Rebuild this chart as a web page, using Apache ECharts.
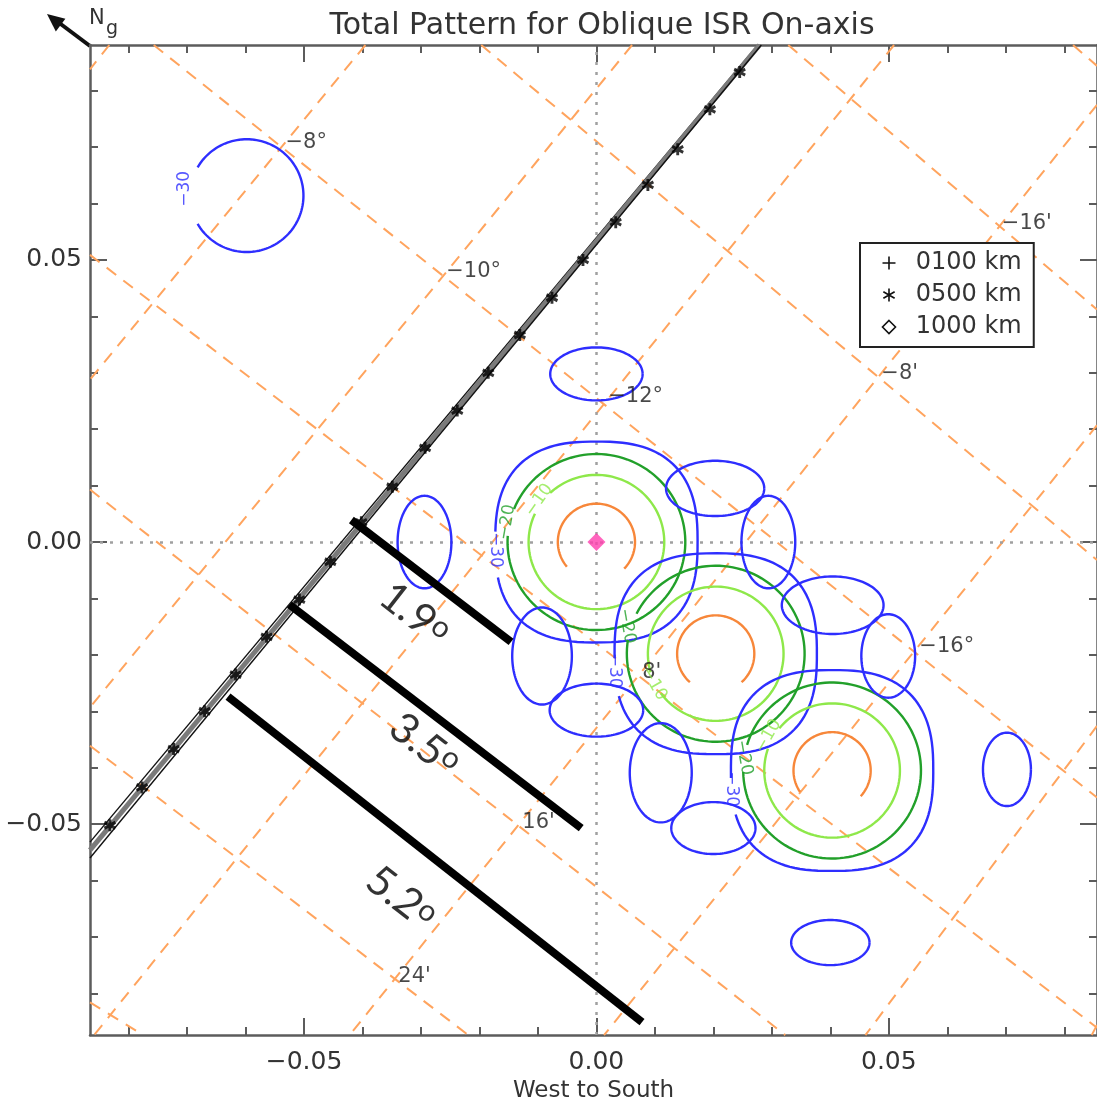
<!DOCTYPE html>
<html>
<head>
<meta charset="utf-8">
<title>Total Pattern for Oblique ISR On-axis</title>
<script src="https://cdn.jsdelivr.net/npm/echarts@6/dist/echarts.min.js"></script>
<style>
  html, body { margin: 0; padding: 0; background: #fff; }
  #chart { width: 1097px; height: 1108px; }
</style>
</head>
<body>
<div id="chart"></div>
<script>
// axis extents and ticks (direction cosines)
const xRange = [-0.0866, 0.0856];
const yRange = [-0.0874, 0.0881];
const majorTicks = [-0.05, 0, 0.05];
const minorTicks = [-0.08, -0.07, -0.06, -0.05, -0.04, -0.03, -0.02, -0.01, 0,
  0.01, 0.02, 0.03, 0.04, 0.05, 0.06, 0.07, 0.08];

// geographic grid: "/" lines (latitude) and "\" lines (longitude offset), [x0, y0, x1, y1]
const latLines = [
  [-0.0833, 0.0881, -0.0866, 0.0838],
  [-0.0395, 0.0881, -0.0866, 0.0288],
  [0.0061, 0.0881, -0.0866, -0.0293],
  [0.0509, 0.0881, -0.0859, -0.0874],
  [0.0856, 0.0775, -0.0422, -0.0874],
  [0.0856, 0.0207, 0.0013, -0.0874],
  [0.0856, -0.0326, 0.0460, -0.0874],
  [0.0856, -0.0856, 0.0847, -0.0874]
];
const lonLines = [
  [0.0815, 0.0881, 0.0856, 0.0844],
  [0.0328, 0.0881, 0.0856, 0.0412],
  [-0.0197, 0.0881, 0.0856, -0.0032],
  [-0.0757, 0.0881, 0.0856, -0.0453],
  [-0.0866, 0.0509, 0.0856, -0.0861],
  [-0.0866, 0.0093, 0.0323, -0.0874],
  [-0.0866, -0.0361, -0.0219, -0.0874],
  [-0.0866, -0.0816, -0.0775, -0.0874]
];
const latLabels = ['\u22128\u00b0', '\u221210\u00b0', '\u221212\u00b0', '\u221216\u00b0'];
const latLabelX = [-0.0537, -0.0262, 0.0015, 0.0547];
const latLabelY = [0.0702, 0.0474, 0.0253, -0.0191];
const lonLabels = ["\u221216'", "\u22128'", "8'", "16'", "24'"];
const lonLabelX = [0.0688, 0.0482, 0.0073, -0.0132, -0.0344];
const lonLabelY = [0.0560, 0.0293, -0.0237, -0.0503, -0.0775];

// beam centres and main-lobe contours (orange, -10, -20, -30 dB)
const beamX = [0.0, 0.0204, 0.0403];
const beamY = [0.0, -0.0198, -0.0405];
const ringRx = [0.0066, 0.0116, 0.0152, 0.0173];
const ringRy = [0.0068, 0.0119, 0.0156, 0.0178];
const ringShape = [2, 2, 2, 2.6];
// label gaps per beam and level: [centre angle, half width] in degrees
const ringGap = [
  [[-92, 48], [144, 11], [167, 9], [186, 9]],
  [[-90, 42], [206, 10], [162, 9], [190, 9]],
  [[-94, 52], [151, 10], [172, 9], [191, 9]]
];

// -30 dB side lobes
const lobeX = [0.0, -0.0294, 0.0294, 0.0, 0.0203, -0.0093, 0.0499, 0.0200, 0.0404, 0.0110, 0.0702, 0.0400, -0.0598];
const lobeY = [0.0298, 0.0, 0.0, -0.0298, 0.0095, -0.0202, -0.0202, -0.0507, -0.0112, -0.0409, -0.0403, -0.0710, 0.0614];
const lobeRx = [0.0079, 0.0046, 0.0046, 0.0080, 0.0084, 0.0051, 0.0046, 0.0072, 0.0087, 0.0053, 0.0041, 0.0067, 0.0097];
const lobeRy = [0.0047, 0.0082, 0.0082, 0.0047, 0.0049, 0.0086, 0.0074, 0.0046, 0.0051, 0.0088, 0.0065, 0.0040, 0.0100];
const lobeGap = [null, null, null, null, null, null, null, null, null, null, null, null, [180, 30]];

// contour labels
const cLabText = ['\u221230', '\u221210', '\u221220', '\u221230', '\u221220', '\u221230', '\u221210', '\u221220', '\u221230', '\u221210'];
const cLabX = [-0.0704, -0.0098, -0.0153, -0.0172, 0.0052, 0.0030, 0.0098, 0.0252, 0.0231, 0.0294];
const cLabY = [0.0626, 0.0074, 0.0035, -0.0014, -0.0149, -0.0228, -0.0251, -0.0382, -0.0438, -0.0344];
const cLabRot = [90, 55, 80, -90, -80, -90, -60, -80, -90, 60];
const cLabLevel = [3, 1, 2, 3, 2, 3, 1, 2, 3, 1];

// field-aligned track at three altitudes: top and bottom ends
const trackNames = ['0100 km', '0500 km', '1000 km'];
const trackTopX = [0.0276, 0.0279, 0.0282];
const trackTopY = [0.0881, 0.0881, 0.0881];
const trackEndX = [-0.0866, -0.0866, -0.0866];
const trackEndY = [-0.0532, -0.0546, -0.0560];
// asterisk markers along the track
const markerX = [0.0245, 0.0194, 0.0139, 0.0088, 0.0033, -0.0023, -0.0076, -0.0131, -0.0185, -0.0238, -0.0293,
  -0.0349, -0.0402, -0.0455, -0.0508, -0.0564, -0.0617, -0.0670, -0.0723, -0.0777, -0.0832];
const markerY = [0.0833, 0.0767, 0.0696, 0.0633, 0.0567, 0.0500, 0.0433, 0.0367, 0.0300, 0.0233, 0.0167,
  0.0098, 0.0035, -0.0035, -0.0102, -0.0168, -0.0235, -0.0300, -0.0367, -0.0435, -0.0502];

// hand-drawn span annotations
const spanLabels = ['1.9', '3.5', '5.2'];
const spanLines = [
  [-0.0419, 0.0039, -0.0146, -0.0177],
  [-0.0525, -0.0111, -0.0026, -0.0507],
  [-0.0630, -0.0274, 0.0078, -0.0851]
];
const spanTextX = [-0.0311, -0.0294, -0.0334];
const spanTextY = [-0.0128, -0.0360, -0.0631];

const font = 'DejaVu Sans';
const txt = '#333';
const axisGrey = '#5c5c5c';
const levelColors = ['#f7873a', '#8ee84a', '#22a02a', '#2e2eff'];

const chart = echarts.init(document.getElementById('chart'));

const fmt = v => (v < 0 ? '\u2212' : '') + Math.abs(v).toFixed(2);

function tickAxis(dim, pos, len, ticks, withLine) {
  return {
    type: 'value',
    position: pos,
    min: dim === 'x' ? xRange[0] : yRange[0],
    max: dim === 'x' ? xRange[1] : yRange[1],
    axisLine: { show: withLine, onZero: false, lineStyle: { color: axisGrey, width: 2.5 } },
    axisTick: { show: true, inside: true, length: len, customValues: ticks, lineStyle: { color: axisGrey, width: 2 } },
    axisLabel: { show: false },
    splitLine: { show: false }
  };
}

const xAxes = [
  tickAxis('x', 'bottom', 8, minorTicks, true),
  tickAxis('x', 'bottom', 17, majorTicks, false),
  tickAxis('x', 'top', 8, minorTicks, true),
  tickAxis('x', 'top', 17, majorTicks, false)
];
xAxes[0].axisLabel = { show: true, customValues: majorTicks, formatter: fmt, fontSize: 25, color: txt, fontFamily: font, margin: 15 };
xAxes[0].name = 'West to South';
xAxes[0].nameLocation = 'middle';
xAxes[0].nameGap = 42;
xAxes[0].nameTextStyle = { fontSize: 23, color: txt, fontFamily: font };

const yAxes = [
  tickAxis('y', 'left', 8, minorTicks, true),
  tickAxis('y', 'left', 17, majorTicks, false),
  tickAxis('y', 'right', 8, minorTicks, true),
  tickAxis('y', 'right', 17, majorTicks, false)
];
yAxes[0].axisLabel = { show: true, customValues: majorTicks, formatter: fmt, fontSize: 25, color: txt, fontFamily: font, margin: 8 };

// contour shapes: [cx, cy, rx, ry, exponent, startDeg, endDeg, level]
const contourItems = [];
beamX.forEach((cx, b) => {
  ringRx.forEach((rx, k) => {
    const g = ringGap[b][k];
    contourItems.push([cx, beamY[b], rx, ringRy[k], ringShape[k], g[0] + g[1], g[0] - g[1] + 360, k]);
  });
});
lobeX.forEach((cx, i) => {
  const g = lobeGap[i];
  contourItems.push([cx, lobeY[i], lobeRx[i], lobeRy[i], 2, g ? g[0] + g[1] : 0, g ? g[0] - g[1] + 360 : 360, 3]);
});

function renderContour(params, api) {
  const cx = api.value(0), cy = api.value(1), rx = api.value(2), ry = api.value(3);
  const n = api.value(4), a0 = api.value(5), a1 = api.value(6), k = api.value(7);
  const pts = [];
  const steps = 120;
  for (let i = 0; i <= steps; i++) {
    const t = (a0 + (a1 - a0) * i / steps) * Math.PI / 180;
    const c = Math.cos(t), s = Math.sin(t);
    pts.push(api.coord([
      cx + rx * Math.sign(c) * Math.pow(Math.abs(c), 2 / n),
      cy + ry * Math.sign(s) * Math.pow(Math.abs(s), 2 / n)
    ]));
  }
  return {
    type: 'polyline',
    shape: { points: pts },
    style: { stroke: levelColors[k], fill: null, lineWidth: 2.4 }
  };
}

const textPoint = (x, y, text, style) => ({ value: [x, y], label: Object.assign({ show: true, formatter: text }, style) });

const gridLabelData = latLabels.map((t, i) => textPoint(latLabelX[i], latLabelY[i], t, {}))
  .concat(lonLabels.map((t, i) => textPoint(lonLabelX[i], lonLabelY[i], t, {})));

const contourLabelData = cLabText.map((t, i) => textPoint(cLabX[i], cLabY[i], t, {
  rotate: cLabRot[i], color: levelColors[cLabLevel[i]], position: 'inside'
}));

const spanTextData = spanLabels.map((t, i) => textPoint(spanTextX[i], spanTextY[i], '{n|' + t + '}{d|o}', {
  rotate: -38, position: 'inside'
}));

const plusIcon = 'path://M-6,0L6,0M0,-6L0,6';
const starIcon = 'path://M0,-6L0,6M-5.2,-3L5.2,3M-5.2,3L5.2,-3';
const diamondIcon = 'path://M0,-6L6,0L0,6L-6,0Z';
const legendIcons = [plusIcon, starIcon, diamondIcon];

const trackSeries = trackNames.map((name, i) => ({
  name: name,
  type: 'line',
  z: 5,
  showSymbol: false,
  silent: true,
  data: [[trackTopX[i], trackTopY[i]], [trackEndX[i], trackEndY[i]]],
  lineStyle: i === 1 ? { color: '#7a7a7a', width: 5 } : { color: '#111', width: 1.4 },
  itemStyle: { color: '#000' }
}));

const option = {
  animation: false,
  backgroundColor: '#fff',
  title: {
    text: 'Total Pattern for Oblique ISR On-axis',
    left: 597, top: 6, textAlign: 'center',
    textStyle: { fontSize: 30, fontWeight: 'normal', color: txt, fontFamily: font }
  },
  grid: { left: 90, top: 45, width: 1009, height: 1000, containLabel: false },
  xAxis: xAxes,
  yAxis: yAxes,
  legend: {
    data: trackNames.map((name, i) => ({
      name: name, icon: legendIcons[i],
      itemStyle: { color: 'none', borderColor: '#111', borderWidth: 1.6 }
    })),
    orient: 'vertical', left: 860, top: 243,
    padding: [8, 12, 8, 20], itemGap: 8, itemWidth: 13, itemHeight: 13,
    borderColor: '#222', borderWidth: 2, backgroundColor: '#fff',
    selectedMode: false,
    formatter: n => '  ' + n,
    textStyle: { fontSize: 24, lineHeight: 24, color: txt, fontFamily: font }
  },
  graphic: [
    { type: 'line', shape: { x1: 90, y1: 46, x2: 58, y2: 22 }, style: { stroke: '#111', lineWidth: 4 } },
    { type: 'polygon', shape: { points: [[47, 14], [65.4, 18.7], [55.8, 31.5]] }, style: { fill: '#111' } },
    { type: 'text', left: 89, top: 8, style: { text: 'N', fontSize: 21, fill: txt, fontFamily: font } },
    { type: 'text', left: 106, top: 20, style: { text: 'g', fontSize: 19, fill: txt, fontFamily: font } }
  ],
  series: [
    {
      type: 'lines', coordinateSystem: 'cartesian2d', z: 1, silent: true,
      lineStyle: { color: '#ffa45e', width: 2, type: [12, 9], opacity: 1 },
      data: latLines.concat(lonLines).map(s => ({ coords: [[s[0], s[1]], [s[2], s[3]]] }))
    },
    {
      type: 'lines', coordinateSystem: 'cartesian2d', z: 2, silent: true,
      lineStyle: { color: '#a0a0a0', width: 2.5, type: [3, 7], opacity: 1 },
      data: [
        { coords: [[0, yRange[0]], [0, yRange[1]]] },
        { coords: [[xRange[0], 0], [xRange[1], 0]] }
      ]
    },
    {
      type: 'custom', z: 3, silent: true, clip: true,
      renderItem: renderContour,
      encode: { x: 0, y: 1 },
      data: contourItems
    },
    {
      type: 'scatter', z: 4, silent: true, symbolSize: 0.1,
      itemStyle: { color: 'transparent' },
      label: { show: true, position: 'right', distance: 3, offset: [0, -3], fontSize: 21, color: '#1a1a1a', fontFamily: font },
      data: gridLabelData
    },
    {
      type: 'scatter', z: 4, silent: true, symbolSize: 0.1,
      itemStyle: { color: 'transparent' },
      label: { show: true, fontSize: 17, fontFamily: font },
      data: contourLabelData
    },
    ...trackSeries,
    {
      name: 'markers', type: 'scatter', z: 6, silent: true,
      symbol: starIcon, symbolSize: [11, 12],
      itemStyle: { color: 'none', borderColor: '#000', borderWidth: 3 },
      data: markerX.map((x, i) => [x, markerY[i]])
    },
    {
      type: 'lines', coordinateSystem: 'cartesian2d', z: 7, silent: true,
      lineStyle: { color: '#000', width: 8, opacity: 1, cap: 'butt' },
      data: spanLines.map(s => ({ coords: [[s[0], s[1]], [s[2], s[3]]] }))
    },
    {
      type: 'scatter', z: 8, silent: true, symbolSize: 0.1,
      itemStyle: { color: 'transparent' },
      label: {
        show: true, color: '#000',
        rich: {
          n: { fontSize: 42, fontFamily: 'Lato', color: '#000' },
          d: { fontSize: 30, fontFamily: 'Lato', color: '#000', verticalAlign: 'top' }
        }
      },
      data: spanTextData
    },
    {
      type: 'scatter', z: 9, silent: true,
      symbol: 'diamond', symbolSize: [18, 18],
      itemStyle: { color: '#ff3fae' },
      data: [[0, 0]]
    }
  ]
};

chart.setOption(option);
</script>
</body>
</html>
